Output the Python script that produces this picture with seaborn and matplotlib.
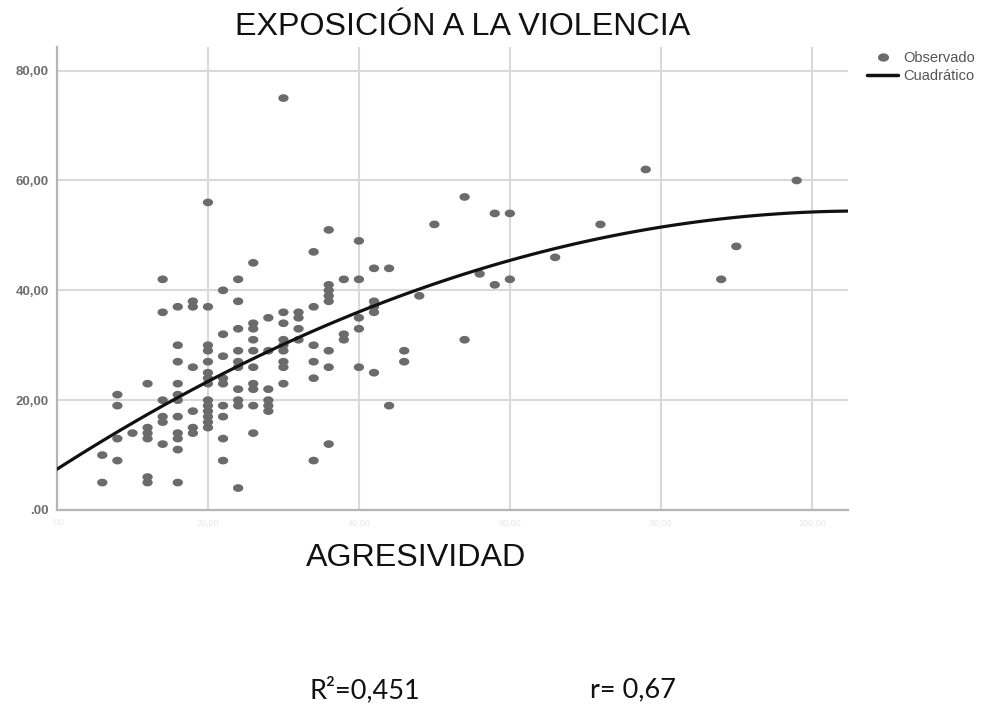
import numpy as np
import pandas as pd
import matplotlib
matplotlib.use("Agg")
import matplotlib.pyplot as plt
from matplotlib.path import Path
from matplotlib.lines import Line2D
import seaborn as sns

# Puntuaciones observadas, agrupadas por valor de agresividad
agresividad = (
    [6] * 2 + [8] * 4 + [10] * 1 + [12] * 6 + [14] * 6 + [16] * 11 + [18] * 6
    + [20] * 14 + [22] * 9 + [24] * 10 + [26] * 10 + [28] * 6 + [30] * 9
    + [32] * 4 + [34] * 6 + [36] * 8 + [38] * 3 + [40] * 5 + [42] * 5
    + [44] * 2 + [46] * 2 + [48] + [50] + [54] * 2 + [56] + [58] * 2
    + [60] * 2 + [66] + [72] + [78] + [88] + [90] + [98]
)
exposicion = [
    10, 5,
    21, 19, 13, 9,
    14,
    23, 15, 14, 13, 6, 5,
    42, 36, 20, 17, 16, 12,
    37, 30, 27, 23, 21, 20, 17, 14, 13, 11, 5,
    38, 37, 26, 18, 15, 14,
    56, 37, 30, 29, 27, 25, 24, 23, 20, 19, 18, 17, 16, 15,
    40, 32, 28, 24, 23, 19, 17, 13, 9,
    42, 38, 33, 29, 27, 26, 22, 20, 19, 4,
    45, 34, 33, 31, 29, 26, 23, 22, 19, 14,
    35, 29, 22, 20, 19, 18,
    75, 36, 34, 31, 30, 29, 27, 26, 23,
    36, 35, 33, 31,
    47, 37, 30, 27, 24, 9,
    51, 41, 40, 39, 38, 29, 26, 12,
    42, 32, 31,
    49, 42, 35, 33, 26,
    44, 38, 37, 36, 25,
    44, 19,
    29, 27,
    39,
    52,
    57, 31,
    43,
    54, 41,
    54, 42,
    46,
    52,
    62,
    42,
    48,
    60,
]

x_ticks = [0, 20, 40, 60, 80, 100]
x_tick_labels = [".00", "20,00", "40,00", "60,00", "80,00", "100,00"]
y_ticks = [0, 20, 40, 60, 80]
y_tick_labels = [".00", "20,00", "40,00", "60,00", "80,00"]

df = pd.DataFrame({"AGRESIVIDAD": agresividad, "EXPOSICION": exposicion})

sns.set_style("white")
plt.rcParams["font.family"] = ["Liberation Sans", "DejaVu Sans"]

dot_color = "#6b6b6b"
line_color = "#111111"

# slightly flattened dot marker
t = np.linspace(0, 2 * np.pi, 40)
ellipse = Path(np.column_stack([np.cos(t), 0.75 * np.sin(t)]), closed=True)

fig = plt.figure(figsize=(9.93, 7.04), dpi=100)
ax = fig.add_axes([57 / 993, 1 - 510 / 704, (848 - 57) / 993, (510 - 47) / 704])
ax.set_xlim(0, 104.8)
ax.set_ylim(0, 84.3)

sns.scatterplot(data=df, x="AGRESIVIDAD", y="EXPOSICION", marker=ellipse, s=55,
                color=dot_color, linewidth=0, edgecolor="none", ax=ax, zorder=3)
sns.regplot(data=df, x="AGRESIVIDAD", y="EXPOSICION", order=2, scatter=False,
            ci=None, truncate=False, ax=ax,
            line_kws=dict(color=line_color, lw=2.3, zorder=4))

ax.set_xlim(0, 104.8)
ax.set_ylim(0, 84.3)
ax.set_xlabel("")
ax.set_ylabel("")
ax.set_xticks(x_ticks)
ax.set_xticklabels(x_tick_labels, color="#e8e8e8", fontsize=6.5)
ax.set_yticks(y_ticks)
ax.set_yticklabels(y_tick_labels, color="#6e6e6e", fontsize=9.5,
                   fontweight="bold")
ax.tick_params(length=0, pad=6)
ax.grid(True, color="#d9d9d9", lw=1.5)
ax.set_axisbelow(True)
for side in ("top", "right"):
    ax.spines[side].set_visible(False)
for side in ("left", "bottom"):
    ax.spines[side].set_color("#b5b5b5")
    ax.spines[side].set_linewidth(1.6)

fig.text(463 / 993, 1 - 27 / 704, "EXPOSICIÓN A LA VIOLENCIA",
         ha="center", va="center", fontsize=23.2, color="#111111")
fig.text(416 / 993, 1 - 558 / 704, "AGRESIVIDAD",
         ha="center", va="center", fontsize=23.2, color="#111111")
fig.text(310 / 993, 1 - 690 / 704, "R²=0,451", ha="left", va="center",
         fontsize=19.5, family=["Lato", "DejaVu Sans"], color="#111111")
fig.text(590 / 993, 1 - 690 / 704, "r= 0,67", ha="left", va="center",
         fontsize=19.5, family=["Lato", "DejaVu Sans"], color="#111111")

handles = [
    Line2D([], [], marker=ellipse, ls="none", color=dot_color, markersize=8,
           markeredgewidth=0),
    Line2D([], [], color=line_color, lw=2.5),
]
fig.legend(handles, ["Observado", "Cuadrático"], loc="upper left",
           bbox_to_anchor=(867 / 993, 1 - 51 / 704), frameon=False,
           fontsize=10.5, handlelength=2.15, handletextpad=0.35,
           labelspacing=0.25, borderpad=0, borderaxespad=0,
           labelcolor="#555555")

fig.savefig("out.png", dpi=100)
